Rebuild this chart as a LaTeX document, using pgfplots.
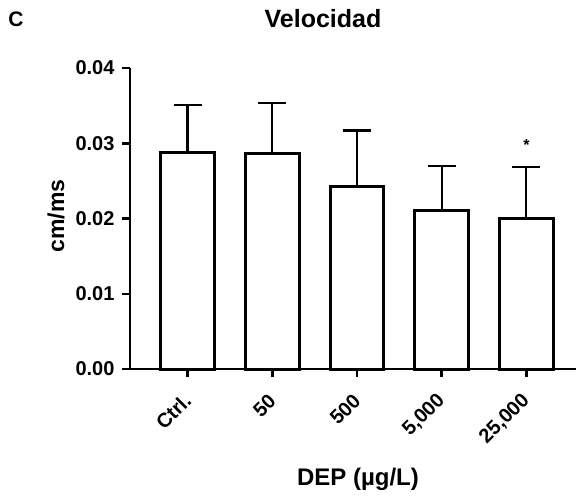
\documentclass[border=0pt]{standalone}
\usepackage{fontspec}
\setmainfont{Liberation Sans}
\usepackage{pgfplots}
\usepackage{pgfplotstable}
\pgfplotsset{compat=1.18}

% mean and upper error (SD) per group
\pgfplotstableread{
x y err
0 0.0288 0.0063
1 0.0287 0.0066
2 0.0243 0.0074
3 0.0210 0.0060
4 0.0200 0.0068
}\velocidad

\begin{document}
\begin{tikzpicture}
  \begin{axis}[
      scale only axis,
      width=445.5pt, height=301pt,
      xmin=-0.68, xmax=4.58,
      ymin=0, ymax=0.04,
      axis x line*=bottom,
      axis y line*=left,
      axis line style={line width=2.5pt, -},
      xtick={0,1,2,3,4},
      xticklabels={Ctrl.,50,500,{5,000},{25,000}},
      ytick={0,0.01,0.02,0.03,0.04},
      yticklabels={0.00,0.01,0.02,0.03,0.04},
      scaled y ticks=false,
      tick align=outside,
      major tick length=8pt,
      tick style={line width=2.5pt, black},
      ticklabel style={font=\bfseries\fontsize{20}{20}\selectfont},
      yticklabel style={xshift=-4pt},
      xticklabel style={xshift=2.4pt, yshift=-18pt, rotate=45, anchor=east},
      ybar,
      bar width=53.5pt,
      clip=false,
    ]
    \addplot[draw=black, fill=white, line width=3pt,
      error bars/.cd, y dir=plus, y explicit,
      error bar style={line width=2.2pt, black},
      error mark options={rotate=90, mark size=14pt, line width=2.2pt, black}]
      table[x=x, y=y, y error=err] {\velocidad};
    \node[font=\bfseries\fontsize{16}{16}\selectfont] at (axis cs:4,0.0298) {*};
  \end{axis}
  \node[font=\bfseries\fontsize{25}{25}\selectfont] at (193pt,350pt) {Velocidad};
  \node[font=\bfseries\fontsize{21}{21}\selectfont] at (-114pt,350pt) {C};
  \node[font=\bfseries\fontsize{23}{23}\selectfont, rotate=90] at (-74pt,153pt) {cm/ms};
  \node[font=\bfseries\fontsize{24}{24}\selectfont] at (228pt,-110pt) {DEP (µg/L)};
  \pgfresetboundingbox
  \path (-130pt,-126pt) rectangle (447pt,369pt);
\end{tikzpicture}
\end{document}
